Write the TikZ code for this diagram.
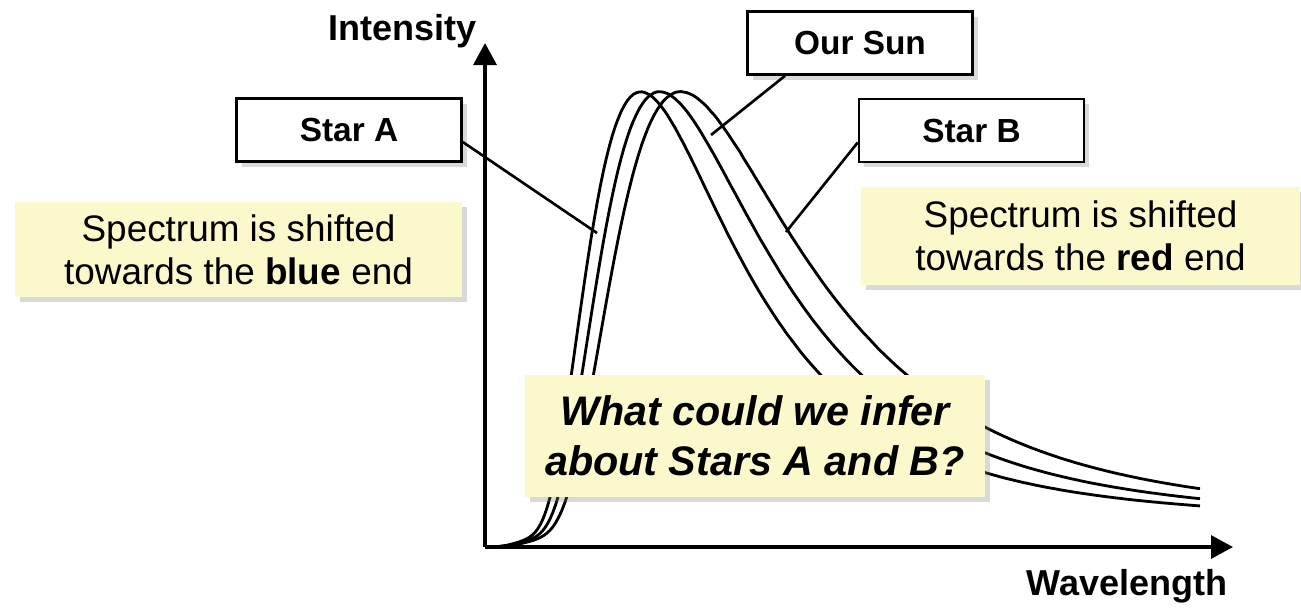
\documentclass[tikz,border=0pt]{standalone}
\usepackage{fontspec}
\setmainfont{Liberation Sans}
\usetikzlibrary{arrows.meta,shadows,calc}
\definecolor{notefill}{RGB}{251,249,203}
\begin{document}
\begin{tikzpicture}[x=0.02cm,y=-0.02cm,
  axis/.style={line width=1.8pt,-{Triangle[length=0.44cm,width=0.46cm]}},
  speccurve/.style={line width=1.6pt},
  leader/.style={line width=1.5pt},
  softshadow/.style={drop shadow={shadow xshift=3pt,shadow yshift=-3pt,opacity=0.3}},
  labelbox/.style={draw,line width=1.5pt,fill=white,minimum width=4.5cm,minimum height=1.26cm,inner sep=0pt,
    font=\fontsize{19pt}{23pt}\selectfont\bfseries,softshadow},
  note/.style={fill=notefill,inner sep=0pt,align=center,font=\fontsize{21pt}{24.5pt}\selectfont,softshadow},
  question/.style={fill=notefill,inner sep=0pt,align=center,minimum width=9.2cm,minimum height=2.44cm,
    font=\fontsize{23.5pt}{28.5pt}\selectfont\bfseries\itshape,softshadow},
  axislabel/.style={font=\fontsize{20.5pt}{24pt}\selectfont\bfseries,inner sep=0pt},
  declare function={planck(\u)=exp(max(4.965*(1-1/\u)-5*ln(\u),-9))*0.99302/(1-exp(-min(4.965/\u,9)));
    bgf(\u)=0.06*(1-exp(0-min(exp(2.5*ln(min(\u,1.6)/0.4)),9)));
    specf(\u)=(planck(\u)+bgf(\u))/1.06;}
]
\useasboundingbox (0,0) rectangle (1301,610);

% axes
\coordinate (O) at (485,547);
\coordinate (ytop) at (485,43);
\coordinate (xend) at (1233,547);
\draw[axis] (O) -- (ytop);
\draw[axis] (O) -- (xend);
\node[axislabel,anchor=base east] (ilabel) at (477,40) {Intensity};
\node[axislabel,anchor=base east] (wlabel) at (1228,595) {Wavelength};

% spectra (peaks at s = 156, 175, 196)
\draw[speccurve] (O) -- plot[variable=\s,domain=2:715,samples=240] ({485+\s},{547-455*specf(\s/156)});
\draw[speccurve] (O) -- plot[variable=\s,domain=2:715,samples=240] ({485+\s},{547-455*specf(\s/175)});
\draw[speccurve] (O) -- plot[variable=\s,domain=2:715,samples=240] ({485+\s},{547-455*specf(\s/196)});

% label boxes
\node[labelbox] (starA) at (349,130) {Star A};
\node[labelbox] (sun) at (860,43) {Our Sun};
\node[labelbox] (starB) at (971.5,130.5) {Star B};

% leader lines
\coordinate (pA) at (597,233);
\coordinate (pSun) at (711,135);
\coordinate (pB) at (786,232);
\draw[leader] ($(starA.east)+(0,12)$) -- (pA);
\draw[leader] ($(sun.south)+(-75,0)$) -- (pSun);
\draw[leader] ($(starB.west)+(0,12)$) -- (pB);

% notes
\node[note,minimum width=8.94cm,minimum height=1.9cm] (noteA) at (238.5,249.5)
  {Spectrum is shifted\\towards the \textbf{blue} end};
\node[note,minimum width=8.78cm,minimum height=1.96cm] (noteB) at (1080.5,236)
  {Spectrum is shifted\\towards the \textbf{red} end};
\node[question] (q) at (755,436) {What could we infer\\about Stars A and B?};
\end{tikzpicture}
\end{document}
